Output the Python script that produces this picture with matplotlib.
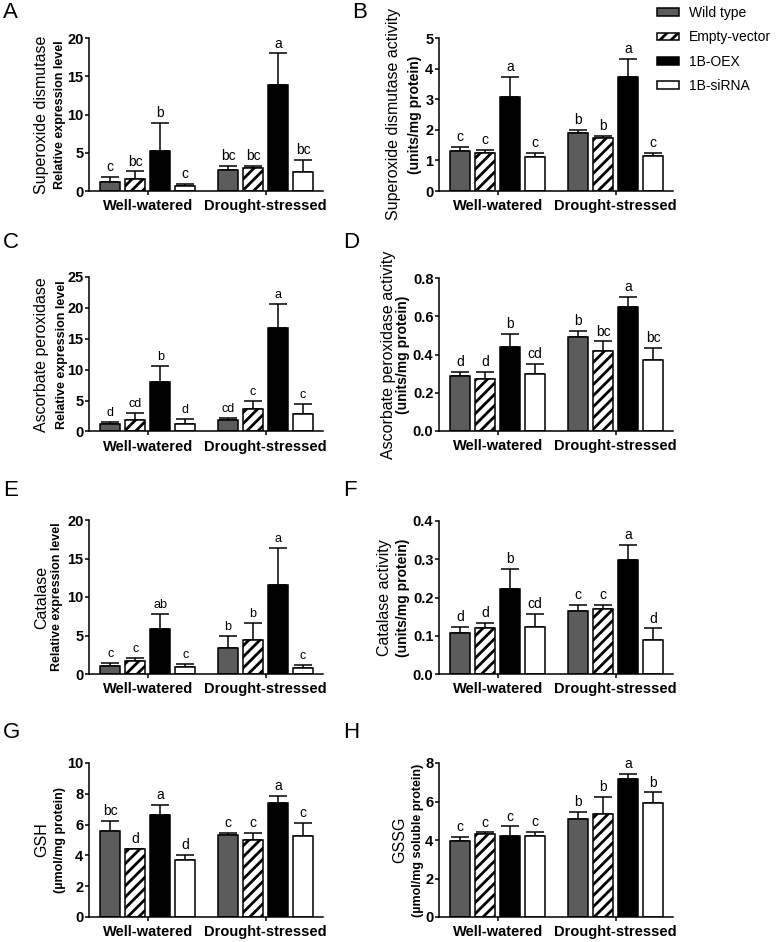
import numpy as np
import matplotlib
matplotlib.use('Agg')
import matplotlib.pyplot as plt
from matplotlib.ticker import FormatStrFormatter

plt.rcParams['font.family'] = ['Liberation Sans', 'DejaVu Sans']
plt.rcParams['hatch.linewidth'] = 2.0

W, H = 778, 942

groups = ['Well-watered', 'Drought-stressed']
genotypes = ['Wild type', 'Empty-vector', '1B-OEX', '1B-siRNA']

# values in order: WT, EV, OEX, siRNA (well-watered) then WT, EV, OEX, siRNA (drought)
sod_expr = [1.15, 1.55, 5.25, 0.7, 2.75, 2.95, 13.8, 2.5]
sod_expr_sd = [0.65, 1.0, 3.65, 0.25, 0.5, 0.35, 4.2, 1.55]
sod_expr_let = ['c', 'bc', 'b', 'c', 'bc', 'bc', 'a', 'bc']

sod_act = [1.30, 1.24, 3.08, 1.11, 1.89, 1.74, 3.72, 1.15]
sod_act_sd = [0.13, 0.10, 0.64, 0.13, 0.10, 0.06, 0.60, 0.10]
sod_act_let = ['c', 'c', 'a', 'c', 'b', 'b', 'a', 'c']

apx_expr = [1.2, 1.85, 8.0, 1.2, 1.85, 3.65, 16.8, 2.9]
apx_expr_sd = [0.3, 1.1, 2.6, 0.85, 0.35, 1.35, 3.8, 1.6]
apx_expr_let = ['d', 'cd', 'b', 'd', 'cd', 'c', 'a', 'c']

apx_act = [0.29, 0.27, 0.44, 0.30, 0.49, 0.42, 0.65, 0.37]
apx_act_sd = [0.018, 0.04, 0.066, 0.051, 0.033, 0.049, 0.052, 0.066]
apx_act_let = ['d', 'd', 'b', 'cd', 'b', 'bc', 'a', 'bc']

cat_expr = [1.05, 1.75, 5.9, 0.87, 3.4, 4.45, 11.6, 0.82]
cat_expr_sd = [0.35, 0.3, 1.9, 0.4, 1.6, 2.15, 4.8, 0.4]
cat_expr_let = ['c', 'c', 'ab', 'c', 'b', 'b', 'a', 'c']

cat_act = [0.107, 0.12, 0.223, 0.124, 0.164, 0.171, 0.299, 0.09]
cat_act_sd = [0.017, 0.013, 0.051, 0.033, 0.017, 0.009, 0.038, 0.029]
cat_act_let = ['d', 'd', 'b', 'cd', 'c', 'c', 'a', 'd']

gsh = [5.6, 4.4, 6.65, 3.7, 5.33, 4.98, 7.42, 5.28]
gsh_sd = [0.65, 0.0, 0.65, 0.34, 0.15, 0.5, 0.43, 0.85]
gsh_let = ['bc', 'd', 'a', 'd', 'c', 'c', 'a', 'c']

gssg = [3.95, 4.3, 4.19, 4.21, 5.11, 5.37, 7.17, 5.9]
gssg_sd = [0.22, 0.1, 0.52, 0.21, 0.35, 0.87, 0.27, 0.57]
gssg_let = ['c', 'c', 'c', 'c', 'b', 'b', 'a', 'b']

colors = ['#5c5c5c', 'white', 'black', 'white']
hatches = [None, '///', None, None]

fig = plt.figure(figsize=(W / 100, H / 100), dpi=100)

def place(l, t, r, b):
    return [l / W, 1 - b / H, (r - l) / W, (b - t) / H]

centers = np.array([2.35, 7.06])
offs = np.array([-1.5, -0.5, 0.5, 1.5])

def panel(box, letter, lpos, means, sd, lets, yticks, fmt, lab1, lab2, labx, fs1=11.5, fs2=9, lfs=10):
    ax = fig.add_axes(place(*box))
    l, t, r, b = box
    bars = []
    for g in range(4):
        xs = centers + offs[g]
        m = [means[g], means[g + 4]]
        e = [sd[g], sd[g + 4]]
        bb = ax.bar(xs, m, width=0.8, color=colors[g], edgecolor='black',
                    linewidth=1.1, hatch=hatches[g], zorder=2, label=genotypes[g])
        bars.append(bb)
        ax.errorbar(xs, m, yerr=[[0, 0], e], fmt='none', ecolor='black',
                    elinewidth=1.1, capsize=6.5, capthick=1.1, zorder=1)
        for x, mm, ee, k in zip(xs, m, e, [g, g + 4]):
            ax.annotate(lets[k], (x, mm + ee), xytext=(0, 2), textcoords='offset points',
                        ha='center', va='bottom', fontsize=lfs)
    ax.set_xlim(0, 9.36)
    ax.set_ylim(yticks[0], yticks[-1])
    ax.set_yticks(yticks)
    if fmt:
        ax.yaxis.set_major_formatter(FormatStrFormatter(fmt))
    ax.set_xticks(centers)
    ax.set_xticklabels(groups, fontsize=10.5, fontweight='bold')
    for tl in ax.get_yticklabels():
        tl.set_fontweight('bold')
        tl.set_fontsize(10.5)
    ax.tick_params(axis='y', length=3, width=1.1, pad=1)
    ax.tick_params(axis='x', length=3, width=1.1, pad=3)
    for s in ['top', 'right']:
        ax.spines[s].set_visible(False)
    for s in ['left', 'bottom']:
        ax.spines[s].set_linewidth(1.1)
    yc = 1 - (t + b) / 2 / H
    fig.text(labx[0] / W, yc, lab1, rotation=90, ha='center', va='center', fontsize=fs1)
    fig.text(labx[1] / W, yc, lab2, rotation=90, ha='center', va='center', fontsize=fs2,
             fontweight='bold')
    fig.text(lpos[0] / W, 1 - lpos[1] / H, letter, ha='left', va='center', fontsize=16)
    return ax, bars

axA, bars = panel((89, 38, 323, 191), 'A', (3, 13), sod_expr, sod_expr_sd, sod_expr_let,
                  [0, 5, 10, 15, 20], None, 'Superoxide dismutase', 'Relative expression level', (42, 60))
panel((439, 38, 673, 191), 'B', (352, 13), sod_act, sod_act_sd, sod_act_let,
      [0, 1, 2, 3, 4, 5], None, 'Superoxide dismutase activity', '(units/mg protein)', (393, 415), fs2=10)
panel((89, 277, 323, 431.5), 'C', (3, 243), apx_expr, apx_expr_sd, apx_expr_let,
      [0, 5, 10, 15, 20, 25], None, 'Ascorbate peroxidase', 'Relative expression level', (42, 62), lfs=9)
panel((439, 278, 673, 431), 'D', (343, 243), apx_act, apx_act_sd, apx_act_let,
      [0, 0.2, 0.4, 0.6, 0.8], '%.1f', 'Ascorbate peroxidase activity', '(units/mg protein)', (388, 403), fs2=10)
panel((89, 520, 323, 674), 'E', (3, 490), cat_expr, cat_expr_sd, cat_expr_let,
      [0, 5, 10, 15, 20], None, 'Catalase', 'Relative expression level', (42, 57), lfs=9)
panel((439, 521, 673, 674), 'F', (343, 490), cat_act, cat_act_sd, cat_act_let,
      [0, 0.1, 0.2, 0.3, 0.4], '%.1f', 'Catalase activity', '(units/mg protein)', (385, 403), fs2=10)
panel((89, 763, 323, 917), 'G', (3, 733), gsh, gsh_sd, gsh_let,
      [0, 2, 4, 6, 8, 10], None, 'GSH', '(µmol/mg protein)', (42, 60))
panel((439, 763, 673, 917), 'H', (343, 733), gssg, gssg_sd, gssg_let,
      [0, 2, 4, 6, 8], None, 'GSSG', '(µmol/mg soluble protein)', (400, 418))

fig.legend(bars, genotypes, loc='upper left', bbox_to_anchor=(657 / W, 1 - 6 / H),
           frameon=False, fontsize=10, handlelength=1.6, handleheight=0.5,
           labelspacing=0.75, handletextpad=0.7, borderpad=0, borderaxespad=0)

fig.savefig('out.png', dpi=100)
